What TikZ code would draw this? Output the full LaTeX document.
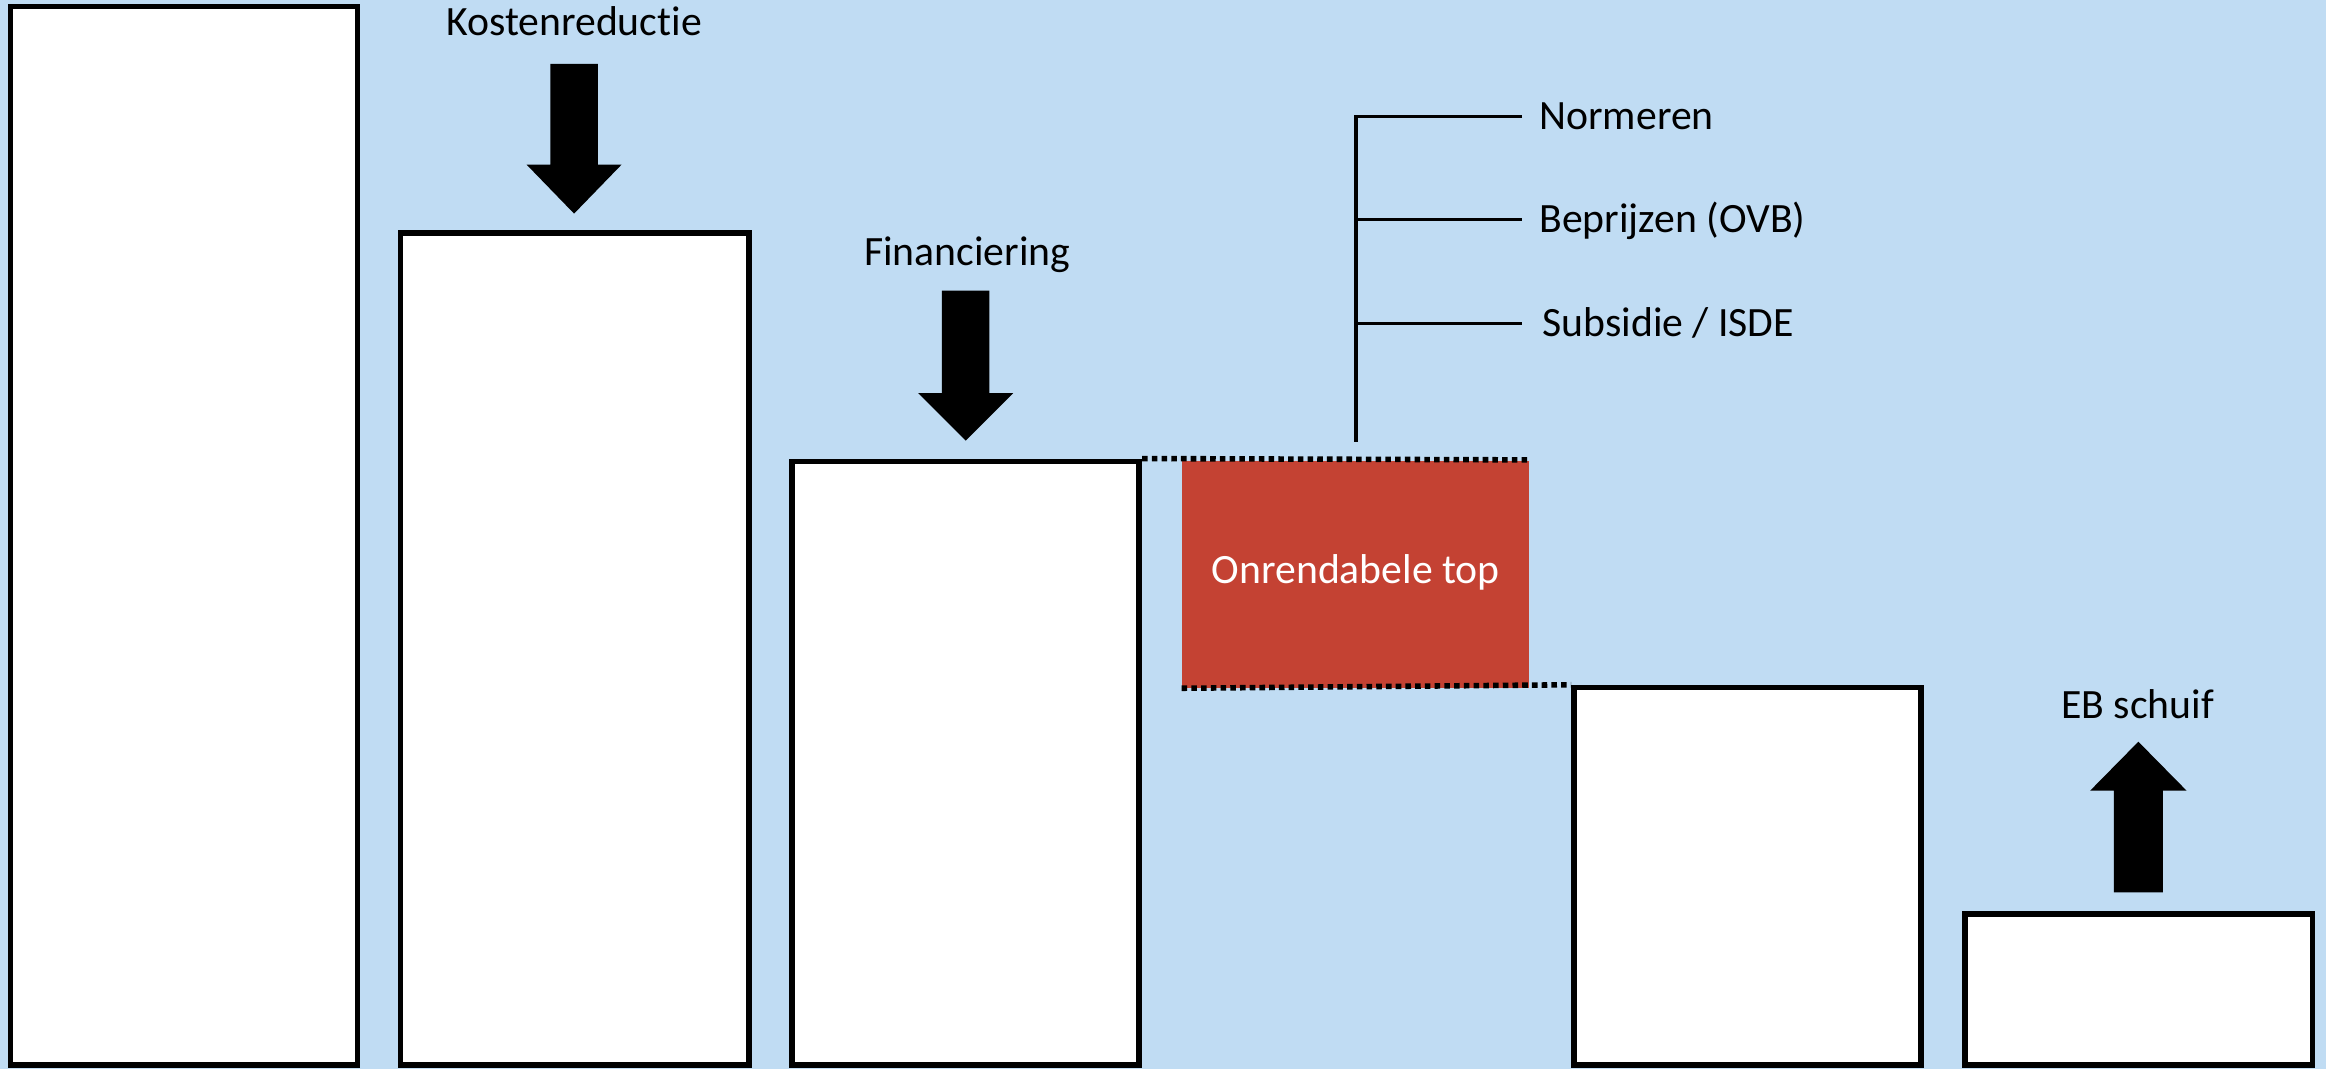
\documentclass[tikz,border=0pt]{standalone}
\usepackage{fontspec}
\setmainfont{Carlito}[Ligatures={NoCommon}]
\usetikzlibrary{fit}
\definecolor{bg}{RGB}{192,220,243}
\definecolor{topred}{RGB}{196,66,51}
\begin{document}
\begin{tikzpicture}[x=0.015cm,y=-0.015cm,
  bar/.style={draw=black,line width=1.6pt,fill=white,inner sep=0pt},
  lbl/.style={font=\fontsize{12}{14}\selectfont,inner sep=0pt,text height=7.7pt,text depth=0pt},
  bigarrow/.style={fill=black},
  brk/.style={line width=1pt},
  dotline/.style={line width=1.6pt,dash pattern=on 1.6pt off 1.2pt}]
\fill[bg] (0,0) rectangle (1568,720.6);
\useasboundingbox (0,0) rectangle (1568,720.6);
% bars
\node[bar,fit={(7,4.5) (241,718)}] (b1) {};
\node[bar,fit={(270,157) (505,718)}] (b2) {};
\node[bar,fit={(534,311) (768,718)}] (b3) {};
\node[fill=topred,inner sep=0pt,fit={(797,310.5) (1031,463.5)}] (red) {};
\node[lbl,text=white] (redlbl) at ([yshift=0.035cm]red.center) {Onrendabele top};
\node[bar,fit={(1061,463.5) (1295,718)}] (b5) {};
\node[bar,fit={(1324.5,616) (1559,718)}] (b6) {};
% dotted guide lines
\draw[dotline] (b3.north east) -- (red.north east);
\draw[dotline] (red.south west) -- (b5.north west);
% labels
\node[lbl] (kost) at (387,15) {Kostenreductie};
\node[lbl] (fin) at (652,170) {Financiering};
\node[lbl] (eb) at (1441,475) {EB schuif};
% arrows
\fill[bigarrow] (371,43) -- (403,43) -- (403,111) -- (419,111) -- (387,144) -- (355,111) -- (371,111) -- cycle;
\fill[bigarrow] (635,196) -- (667,196) -- (667,265) -- (683,265) -- (651,297) -- (619,265) -- (635,265) -- cycle;
\fill[bigarrow] (1425,601.5) -- (1458,601.5) -- (1458,533) -- (1474,533) -- (1441.5,500) -- (1409,533) -- (1425,533) -- cycle;
% bracket labels
\node[lbl,anchor=west,inner xsep=0.17cm] (n1) at (1026,78.5) {Normeren};
\node[lbl,anchor=west,inner xsep=0.17cm] (n2) at (1026,148) {Beprijzen (OVB)};
\node[lbl,anchor=west,inner xsep=0.2cm] (n3) at (1026,218) {Subsidie / ISDE};
\draw[brk] (n1.west) -- (n1.west -| red.north) -- ([yshift=0.18cm]red.north);
\draw[brk] (n2.west -| red.north) -- (n2.west);
\draw[brk] (n3.west -| red.north) -- (n3.west);
\end{tikzpicture}
\end{document}
